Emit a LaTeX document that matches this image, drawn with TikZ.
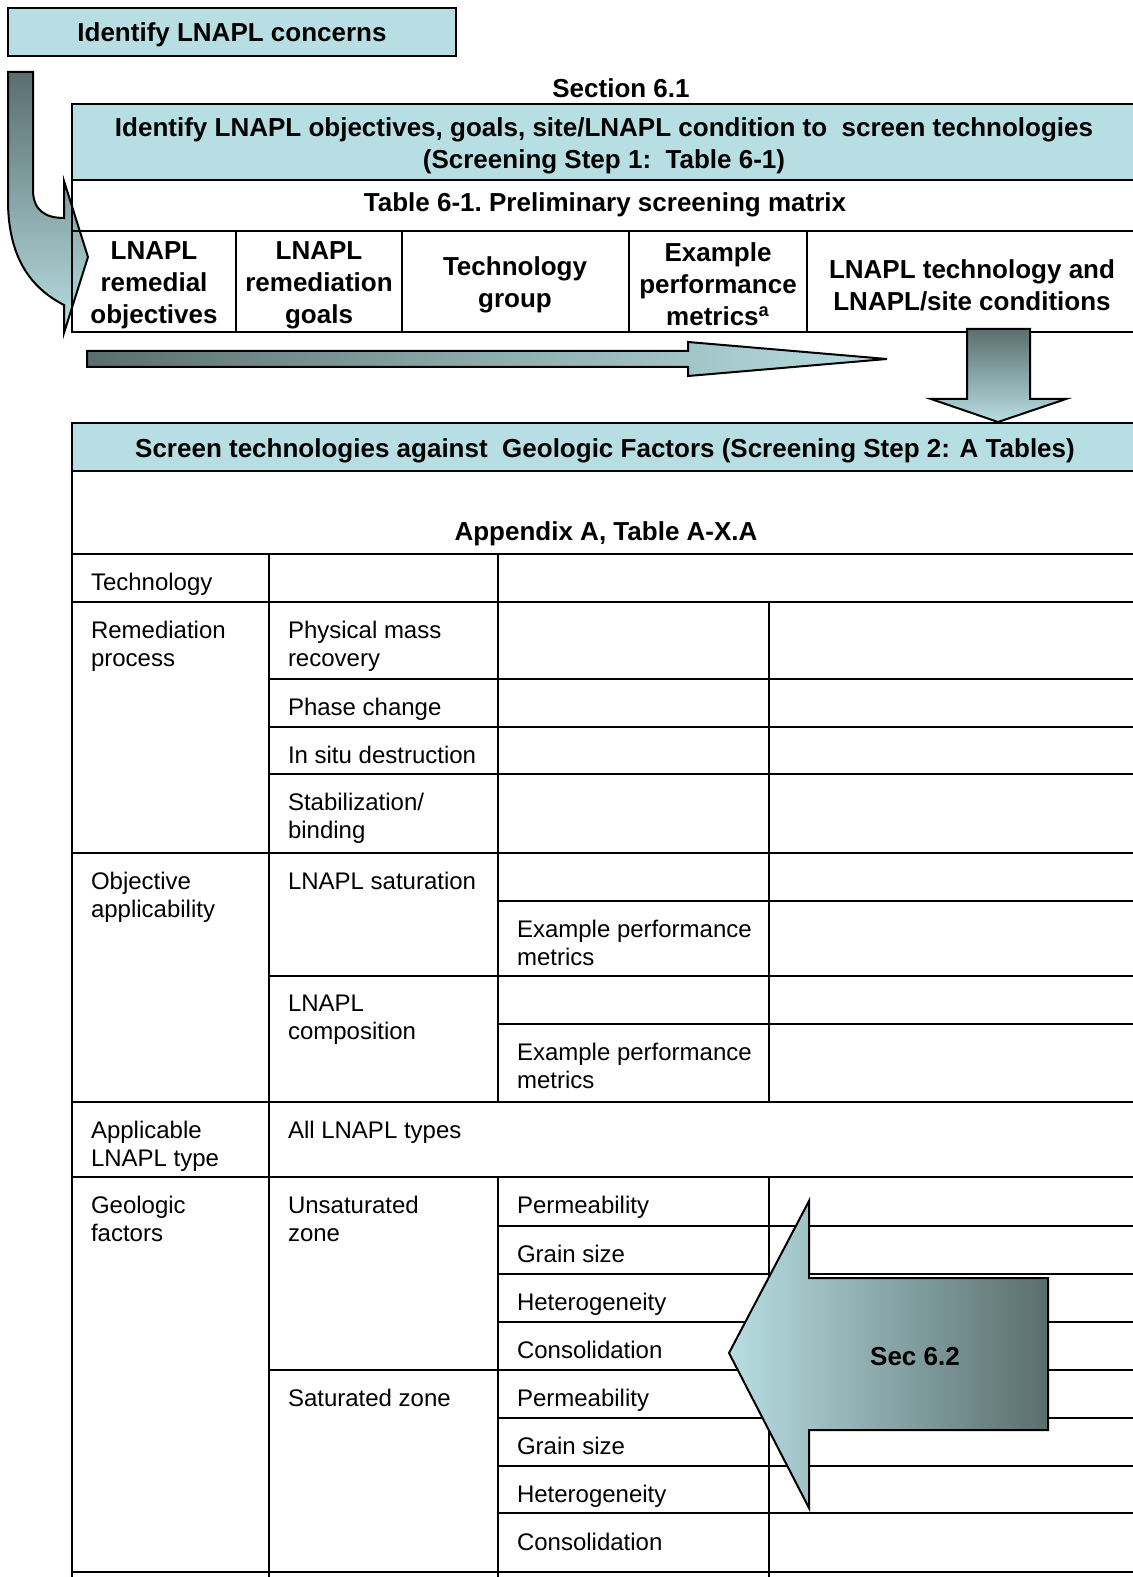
\documentclass[tikz,border=0pt]{standalone}
\usepackage{fontspec}
\setmainfont{Liberation Sans}
\definecolor{boxblue}{RGB}{183,222,226}
\definecolor{slate}{RGB}{90,110,110}

\begin{document}
\begin{tikzpicture}[x=0.5pt,y=-0.5pt,line width=1pt,
  hd/.style={font=\fontsize{13}{16}\selectfont\bfseries,align=center,inner sep=0},
  cell/.style={font=\fontsize{12}{14}\selectfont,align=left,anchor=north west,inner sep=0}]
\useasboundingbox (0,0) rectangle (1133,1577);
\clip (0,0) rectangle (1133,1577);

\draw[fill=boxblue] (8,8) rectangle (456,56);
\draw (232,35) node[hd] (concerns) {Identify LNAPL\ concerns};
\shade[draw,top color=slate,bottom color=boxblue] (8,72) -- (33,72) -- (33,190) .. controls (33,210) and (45,218) .. (64,218) -- (64,181) -- (88,257) -- (64,333) -- (64,305) .. controls (25,285) and (8,250) .. (8,200) -- cycle;

\draw (621,88) node[hd] (sec61) {Section 6.1};
\draw[fill=boxblue] (72,104) rectangle (1140,180);
\draw (604,146) node[hd] (step1) {Identify LNAPL\ objectives, goals, site/LNAPL\ condition to\ \ screen technologies\\(Screening Step 1:\ \ Table 6-1)};
\draw (72,180) -- (72,332) -- (1140,332);
\draw (72,231) -- (1140,231);
\draw (236,231) -- (236,332);
\draw (402,231) -- (402,332);
\draw (629,231) -- (629,332);
\draw (807,231) -- (807,332);
\draw (605,205) node[hd] (tab61) {Table 6-1.\ Preliminary screening\ matrix};
\draw (154,285) node[hd] (objectives) {LNAPL\\remedial\\objectives};
\draw (319,285) node[hd] (goals) {LNAPL\\remediation\\goals};
\draw (515,285) node[hd] (group) {Technology\\group};
\draw (718,284) node[hd] (metrics) {Example\\performance\\metrics\textsuperscript{a}};
\draw (972,285) node[hd] (conditions) {LNAPL technology\ and\\LNAPL/site\ conditions};

\shade[draw,left color=slate,right color=boxblue,middle color=slate!45!boxblue] (87,351) -- (688,351) -- (688,342) -- (887,359) -- (688,376) -- (688,367) -- (87,367) -- cycle;
\shade[draw,top color=slate,bottom color=boxblue] (967,329) -- (1030,329) -- (1030,399) -- (1066,399) -- (998,422) -- (931,399) -- (967,399) -- cycle;

\draw[fill=boxblue] (72,423) rectangle (1140,471);
\draw (605,451) node[hd] (step2) {Screen technologies against\ \ Geologic Factors (Screening Step 2: A Tables)};
\draw (606,534) node[hd] (appA) {Appendix A, Table A-X.A};
\draw (72,471) -- (72,1590);
\draw (269,554) -- (269,1590);
\draw (498,554) -- (498,1102) (498,1177) -- (498,1590);
\draw (769,602) -- (769,1102) (769,1177) -- (769,1590);
\draw (72,554) -- (1140,554) (72,602) -- (1140,602) (72,853) -- (1140,853);
\draw (72,1102) -- (1140,1102) (72,1177) -- (1140,1177) (72,1572) -- (1140,1572);
\draw (269,679) -- (1140,679) (269,727) -- (1140,727) (269,774) -- (1140,774);
\draw (498,901) -- (1140,901) (269,976) -- (1140,976) (498,1024) -- (1140,1024);
\draw (498,1226) -- (1140,1226) (498,1274) -- (1140,1274) (498,1322) -- (1140,1322);
\draw (269,1370) -- (1140,1370);
\draw (498,1418) -- (1140,1418) (498,1466) -- (1140,1466) (498,1513) -- (1140,1513);

\draw (90,572) node[cell] (technology) {Technology};
\draw (90,620) node[cell] (process) {Remediation\\process};
\draw (287,620) node[cell] (physical) {Physical mass\\recovery};
\draw (287,697) node[cell] (phase) {Phase change};
\draw (287,745) node[cell] (destruction) {In situ destruction};
\draw (287,792) node[cell] (binding) {Stabilization/\\binding};
\draw (90,871) node[cell] (applicability) {Objective\\applicability};
\draw (287,871) node[cell] (saturation) {LNAPL saturation};
\draw (516,919) node[cell] (satmetrics) {Example performance\\metrics};
\draw (287,994) node[cell] (composition) {LNAPL\\composition};
\draw (516,1042) node[cell] (compmetrics) {Example performance\\metrics};
\draw (90,1120) node[cell] (lnapltype) {Applicable\\LNAPL type};
\draw (287,1120) node[cell] (alltypes) {All LNAPL types};
\draw (90,1195) node[cell] (geologic) {Geologic\\factors};
\draw (287,1195) node[cell] (unsat) {Unsaturated\\zone};
\draw (516,1195) node[cell] (uperm) {Permeability};
\draw (516,1244) node[cell] (ugrain) {Grain size};
\draw (516,1292) node[cell] (uhet) {Heterogeneity};
\draw (516,1340) node[cell] (ucons) {Consolidation};
\draw (287,1388) node[cell] (sat) {Saturated zone};
\draw (516,1388) node[cell] (sperm) {Permeability};
\draw (516,1436) node[cell] (sgrain) {Grain size};
\draw (516,1484) node[cell] (shet) {Heterogeneity};
\draw (516,1532) node[cell] (scons) {Consolidation};

\shade[draw,left color=boxblue,right color=slate] (729,1353) -- (809,1201) -- (809,1278) -- (1048,1278) -- (1048,1430) -- (809,1430) -- (809,1508) -- cycle;
\draw (915,1357) node[hd] (sec62) {Sec 6.2};
\end{tikzpicture}
\end{document}
